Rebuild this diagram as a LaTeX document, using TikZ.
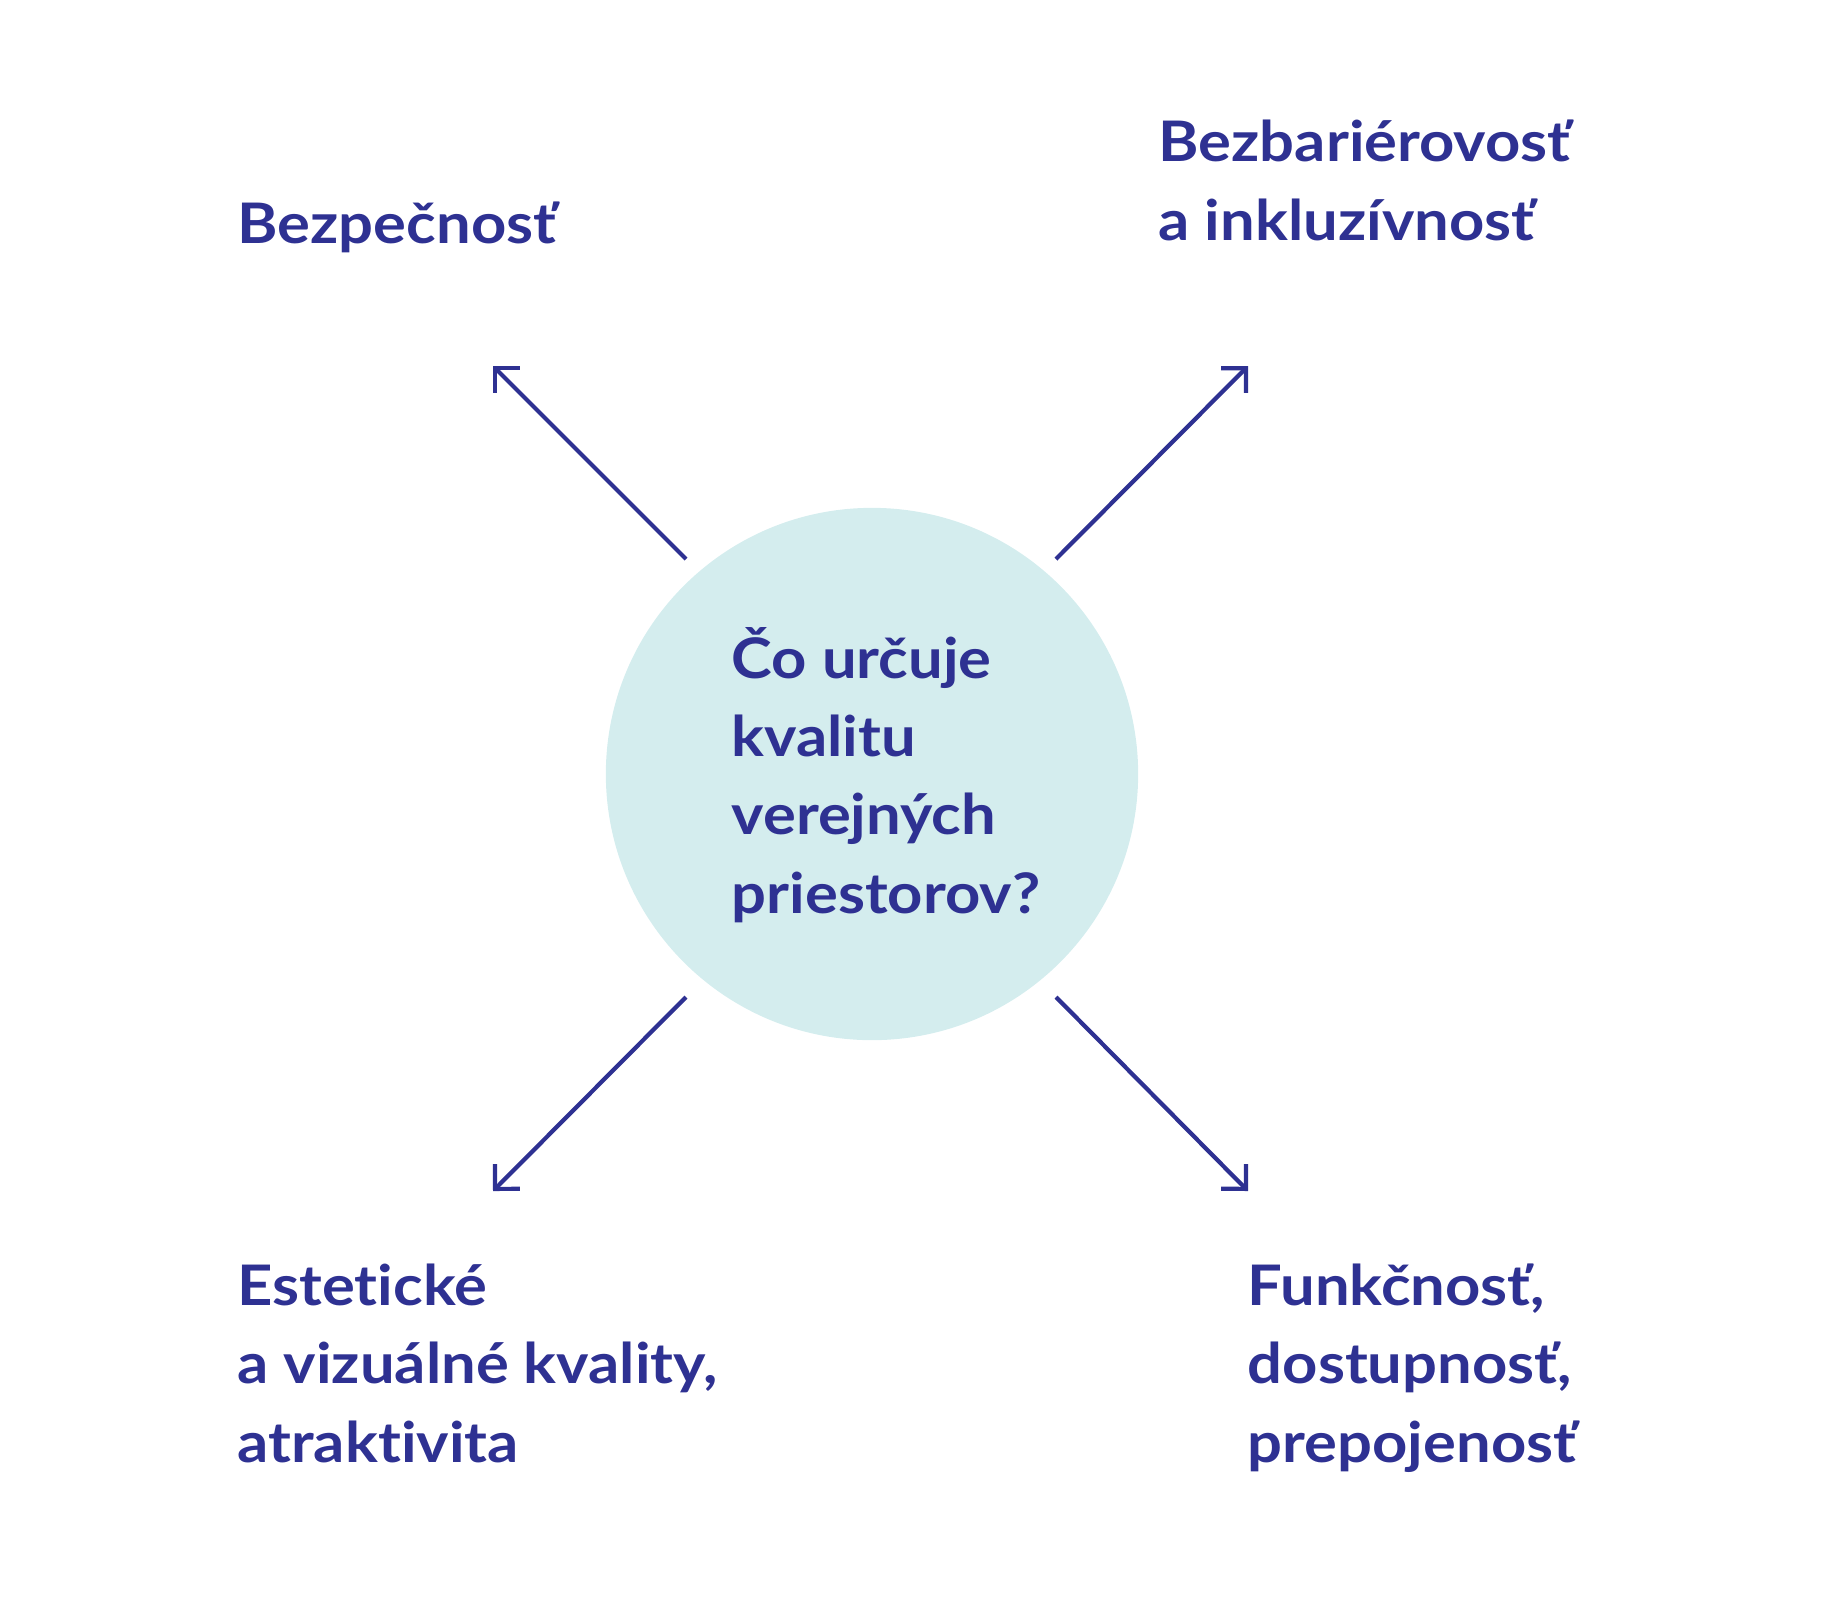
\documentclass[tikz,border=0pt]{standalone}
\usepackage{fontspec}
\setmainfont{Lato}[Ligatures=NoCommon,BoldFeatures={FakeStretch=1.1}]
\usetikzlibrary{arrows.meta}
\definecolor{ink}{HTML}{2E3192}
\definecolor{pool}{HTML}{D4EDEE}
\tikzset{>={Straight Barb[length=5pt,width=10pt,line join=miter]}}

\begin{document}
\begin{tikzpicture}[x=0.01cm,y=-0.01cm,
    topic/.style={anchor=base west,align=left,inner sep=0pt,text=ink,
      font=\fontsize{15.9}{22.2}\selectfont\bfseries},
    pointer/.style={draw=ink,line width=1.2pt,->}]
    \useasboundingbox (0,0) rectangle (1835,1599);

    % centre question (anchored at the baseline of its last line)
    \node[circle,fill=pool,minimum size=5.32cm,inner sep=0pt] (q) at (872,774) {};
    \node[topic] (qtext) at (731,913) {Čo určuje\\kvalitu\\verejných\\priestorov?};

    % four answers
    \node[topic] (bezp) at (237,243) {Bezpečnosť};
    \node[topic] (bezbar) at (1158,240) {Bezbariérovosť\\a inkluzívnosť};
    \node[topic] (estet) at (237,1462) {Estetické\\a vizuálné kvality,\\atraktivita};
    \node[topic] (funk) at (1247,1462) {Funkčnosť,\\dostupnosť,\\prepojenosť};

    \coordinate (nw0) at (686,559);
    \coordinate (nw1) at (493,366);
    \coordinate (ne0) at (1056,559);
    \coordinate (ne1) at (1248,366);
    \coordinate (sw0) at (686,997);
    \coordinate (sw1) at (493,1191);
    \coordinate (se0) at (1056,997);
    \coordinate (se1) at (1248,1191);

    \draw[pointer] (nw0) -- (nw1);
    \draw[pointer] (ne0) -- (ne1);
    \draw[pointer] (sw0) -- (sw1);
    \draw[pointer] (se0) -- (se1);
\end{tikzpicture}
\end{document}
